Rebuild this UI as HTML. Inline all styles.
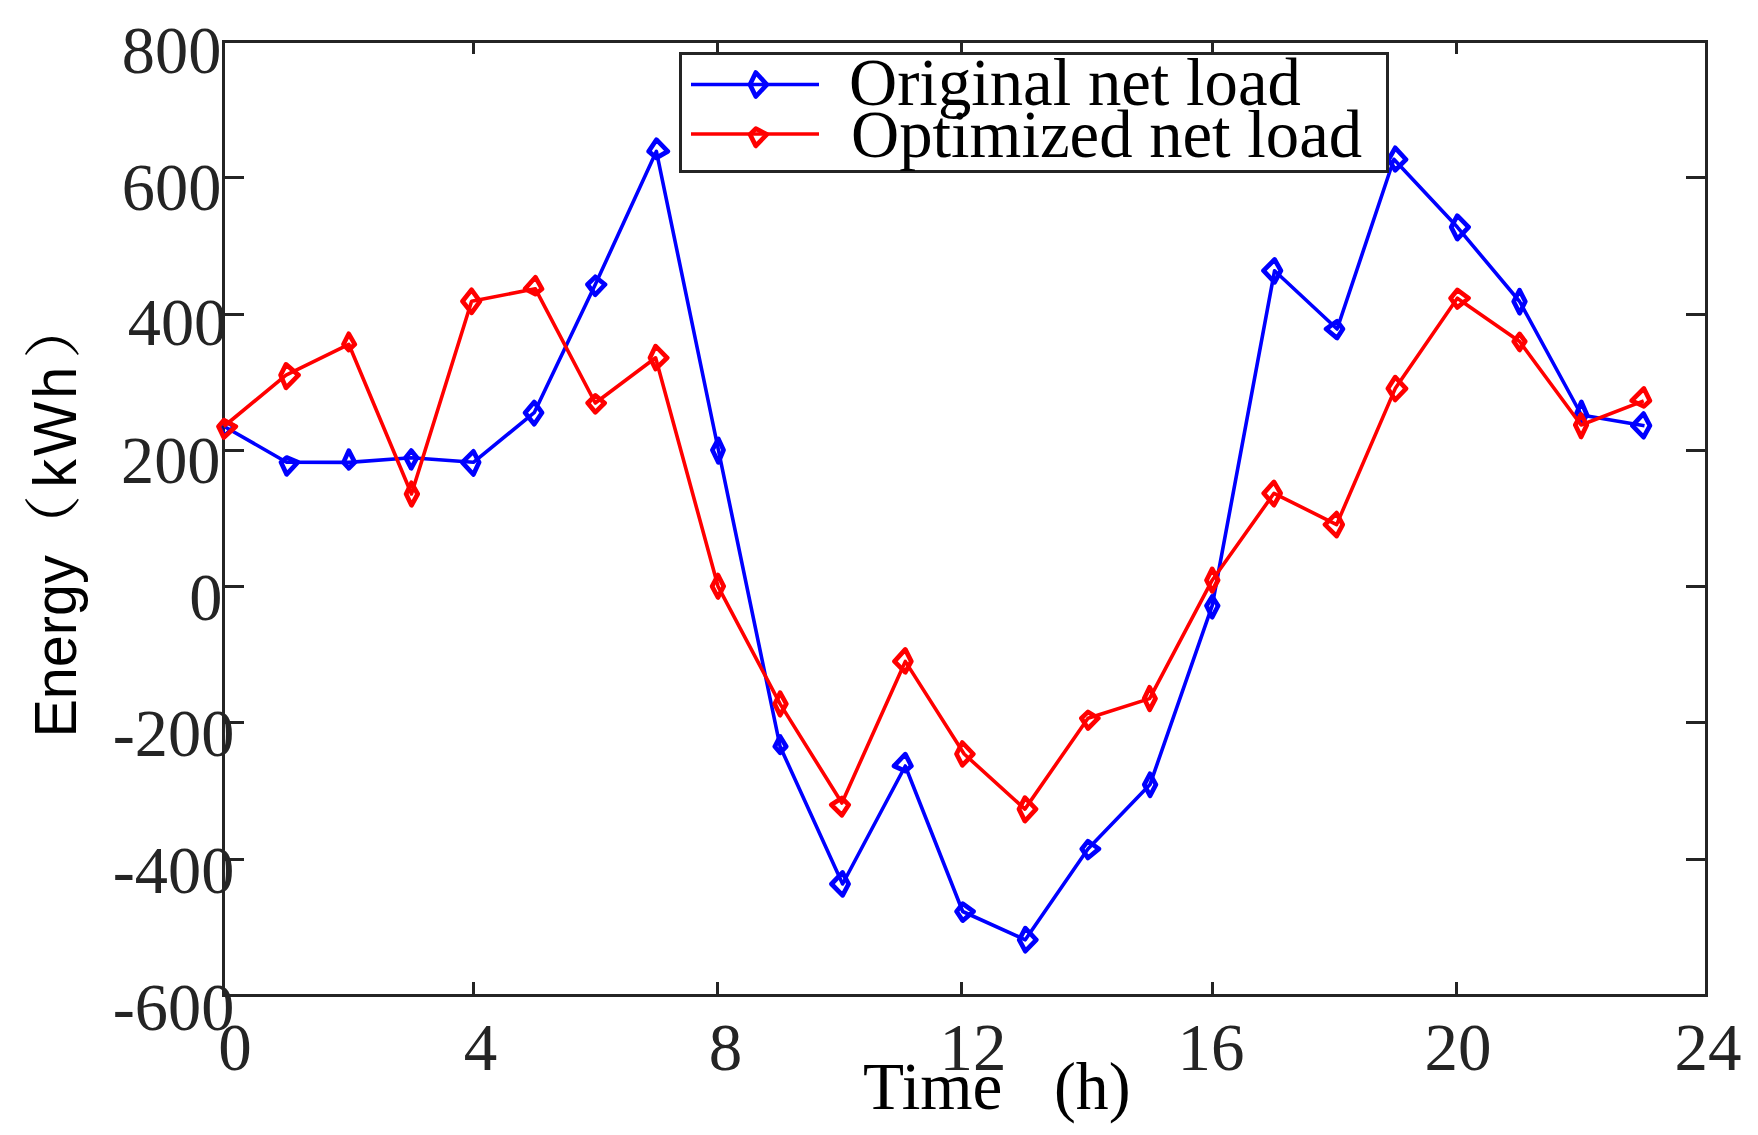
<!DOCTYPE html>
<html lang="en"><head><meta charset="utf-8"><title>Net load</title>
<style>
html,body{margin:0;padding:0;background:#fff;}
body{width:1758px;height:1135px;overflow:hidden;}
svg{display:block;}
.tk{font-family:"Liberation Serif",serif;font-size:67px;fill:#242424;}
.lg{font-family:"Liberation Serif",serif;font-size:66.7px;fill:#000;}
.xl{font-family:"Liberation Serif",serif;font-size:67px;fill:#000;}
.yl{font-family:"Liberation Sans","Noto Sans CJK SC",sans-serif;font-size:57.5px;fill:#000;}
.yp{font-family:"Liberation Sans","Noto Serif CJK SC",serif;font-size:57.5px;fill:#000;}
</style></head><body>
<svg width="1758" height="1135" viewBox="0 0 1758 1135">
<rect width="1758" height="1135" fill="#fff"/>
<rect x="223.5" y="41.5" width="1483.0" height="954.0" fill="none" stroke="#242424" stroke-width="3"/>
<path d="M473.5 995.5v-13.5M473.5 41.5v12.5M717.5 995.5v-13.5M717.5 41.5v12.5M961.5 995.5v-13.5M961.5 41.5v12.5M1212.5 995.5v-13.5M1212.5 41.5v12.5M1456.5 995.5v-13.5M1456.5 41.5v12.5M223.5 177.5h20.5M1706.5 177.5h-20.5M223.5 314.5h20.5M1706.5 314.5h-20.5M223.5 450.5h20.5M1706.5 450.5h-20.5M223.5 586.5h20.5M1706.5 586.5h-20.5M223.5 722.5h20.5M1706.5 722.5h-20.5M223.5 859.5h20.5M1706.5 859.5h-20.5" stroke="#242424" stroke-width="3" fill="none"/>
<path d="M224.3 426.5L286.6 462.2L348.8 462.4L411.2 457.7L473.4 462.3L534.2 412.7L595.3 284.5L656.4 151.3L718.4 450.0L780.1 746.5L842.6 884.0L905.3 766.0L962.7 911.5L1025.3 939.8L1087.9 848.9L1150.0 784.6L1212.2 605.7L1274.6 270.7L1337.1 329.0L1393.9 159.3L1457.3 227.1L1519.6 301.5L1581.4 415.0L1644.5 425.7" fill="none" stroke="#0000ff" stroke-width="3.6" stroke-linejoin="round"/>
<path d="M224.3 420.7L234.8 426.5L224.3 436.3L219.2 426.5ZM286.6 457.5L297.9 462.2L286.6 474.3L281.0 462.2ZM348.8 450.6L354.8 462.4L348.8 468.3L343.5 462.4ZM411.2 450.6L417.0 457.7L411.2 468.3L405.6 457.7ZM473.4 451.3L479.1 462.3L473.4 474.5L462.3 462.3ZM534.2 402.0L542.0 412.7L534.2 424.2L525.1 412.7ZM595.3 276.8L605.0 284.5L595.3 294.7L587.5 284.5ZM656.4 139.7L667.8 151.4L656.4 157.9L648.7 151.4ZM718.4 438.9L723.5 450.0L718.4 462.4L712.4 450.0ZM780.1 736.4L786.2 746.5L780.1 752.8L774.8 746.5ZM842.6 872.5L848.6 884.0L842.6 895.4L831.5 884.0ZM905.3 754.2L911.4 766.0L905.3 771.2L894.0 766.0ZM962.7 903.7L973.5 911.5L962.7 920.6L956.6 911.5ZM1025.3 928.1L1036.3 939.8L1025.3 951.2L1019.2 939.8ZM1087.9 841.1L1098.9 848.9L1087.9 858.0L1081.8 848.9ZM1150.0 773.8L1155.9 784.6L1150.0 795.8L1144.3 784.6ZM1212.2 596.4L1218.1 605.7L1212.2 617.2L1206.5 605.7ZM1274.6 259.5L1280.9 270.7L1274.6 282.4L1263.5 270.7ZM1337.1 321.2L1342.9 329.0L1337.1 338.1L1326.1 329.0ZM1395.2 147.8L1406.0 159.5L1395.2 170.3L1388.6 159.5ZM1457.3 215.7L1468.6 227.1L1457.3 239.1L1451.2 227.1ZM1519.6 290.2L1525.3 301.5L1519.6 313.2L1513.7 301.5ZM1581.4 402.0L1587.0 415.0L1581.4 423.5L1575.9 415.0ZM1643.6 413.6L1649.9 425.7L1643.6 437.2L1632.4 425.7Z" fill="none" stroke="#0000ff" stroke-width="4.7" stroke-linejoin="round"/>
<path d="M223.8 426.5L286.0 375.1L348.8 344.3L411.5 494.0L471.6 301.3L535.4 288.8L595.3 403.0L655.6 357.8L718.0 586.3L780.1 703.9L841.9 803.0L905.3 661.4L964.2 754.0L1024.9 809.1L1088.0 718.2L1149.6 698.6L1212.2 580.2L1274.0 493.3L1336.6 524.6L1395.2 388.6L1457.3 298.2L1519.6 341.5L1581.1 425.0L1643.7 400.9" fill="none" stroke="#ff0000" stroke-width="3.6" stroke-linejoin="round"/>
<path d="M223.8 420.2L235.8 426.5L223.8 437.5L218.5 426.5ZM286.0 364.4L298.5 375.1L286.0 387.8L280.6 375.1ZM348.8 333.8L354.8 344.3L348.8 350.1L343.5 344.3ZM411.5 482.8L417.7 494.0L411.5 505.3L406.1 494.0ZM471.6 289.8L479.9 301.3L471.6 312.8L462.5 301.3ZM535.4 277.2L542.0 288.8L535.4 294.1L525.1 288.8ZM595.3 395.4L604.6 403.0L595.3 412.3L587.7 403.0ZM655.6 346.1L667.2 357.8L655.6 369.0L650.0 357.8ZM718.0 575.0L723.7 586.3L718.0 597.5L712.1 586.3ZM780.1 692.7L786.3 703.9L780.1 715.2L774.7 703.9ZM841.9 798.0L848.7 804.8L841.9 815.2L831.3 804.8ZM905.3 649.4L911.3 661.4L905.3 672.3L894.5 661.4ZM962.3 742.5L973.3 754.0L962.3 765.3L956.5 754.0ZM1024.9 797.6L1036.0 809.1L1024.9 821.1L1019.0 809.1ZM1088.0 711.9L1098.3 718.2L1088.0 728.5L1081.4 718.2ZM1149.6 687.3L1155.5 698.6L1149.6 709.8L1144.2 698.6ZM1212.2 568.9L1218.1 580.2L1212.2 591.4L1206.5 580.2ZM1274.0 481.9L1280.6 493.3L1274.0 505.2L1263.7 493.3ZM1336.6 513.1L1342.7 524.6L1336.6 536.1L1325.0 524.6ZM1395.2 377.1L1406.0 388.6L1395.2 400.0L1387.9 388.6ZM1457.3 289.9L1468.5 298.2L1457.3 307.5L1450.6 298.2ZM1519.6 333.9L1525.2 341.5L1519.6 349.9L1513.8 341.5ZM1581.1 414.5L1586.8 425.0L1581.1 437.0L1575.3 425.0ZM1643.9 388.5L1649.9 400.7L1643.9 406.4L1631.7 400.7Z" fill="none" stroke="#ff0000" stroke-width="4.7" stroke-linejoin="round"/>
<rect x="680.5" y="53.5" width="707" height="118" fill="#fff" stroke="#242424" stroke-width="3"/>
<path d="M691 84.5H819" stroke="#0000ff" stroke-width="3.6"/>
<path d="M755.8 72.5L766.8 84.6L755.8 96.5L750.0 84.6Z" fill="none" stroke="#0000ff" stroke-width="4.7" stroke-linejoin="round"/>
<path d="M691 134H819" stroke="#ff0000" stroke-width="3.6"/>
<path d="M755.8 128.7L766.8 134.4L755.8 145.9L750.0 134.4Z" fill="none" stroke="#ff0000" stroke-width="4.7" stroke-linejoin="round"/>
<text class="lg" x="849" y="104.5">Original net load</text>
<text class="lg" x="851" y="156.5">Optimized net load</text>
<text class="tk" transform="translate(221.3 73.3) scale(0.99 1)" text-anchor="end">800</text>
<text class="tk" transform="translate(221.3 209.8) scale(0.99 1)" text-anchor="end">600</text>
<text class="tk" transform="translate(227.2 345.3) scale(0.99 1)" text-anchor="end">400</text>
<text class="tk" transform="translate(220.5 482.7) scale(0.99 1)" text-anchor="end">200</text>
<text class="tk" transform="translate(222.3 619.7) scale(0.99 1)" text-anchor="end">0</text>
<text class="tk" transform="translate(234.3 755.7) scale(0.99 1)" text-anchor="end">-200</text>
<text class="tk" transform="translate(234.3 892.8) scale(0.99 1)" text-anchor="end">-400</text>
<text class="tk" transform="translate(234.3 1029.7) scale(0.99 1)" text-anchor="end">-600</text>
<text class="tk" transform="translate(235 1069.5)" text-anchor="middle">0</text>
<text class="tk" transform="translate(480.5 1069.5)" text-anchor="middle">4</text>
<text class="tk" transform="translate(725.5 1069.5)" text-anchor="middle">8</text>
<text class="tk" transform="translate(973 1069.5)" text-anchor="middle">12</text>
<text class="tk" transform="translate(1211 1069.5)" text-anchor="middle">16</text>
<text class="tk" transform="translate(1458 1069.5)" text-anchor="middle">20</text>
<text class="tk" transform="translate(1708 1069.5)" text-anchor="middle">24</text>
<text class="xl" transform="translate(863 1109) scale(1.003 1)">Time</text>
<text class="xl" transform="translate(1054 1109) scale(0.98 1)">(h)</text>
<text class="yl" transform="translate(76 737.5) rotate(-90) scale(1 1.04)">Energy</text>
<text class="yp" transform="translate(73.5 558) rotate(-90) scale(1.1 1)">（</text>
<text class="yl" transform="translate(76 487.7) rotate(-90) scale(1 1.06)" letter-spacing="3">kWh</text>
<text class="yp" transform="translate(73.5 359) rotate(-90) scale(1.1 1)">）</text>
</svg>
</body></html>
